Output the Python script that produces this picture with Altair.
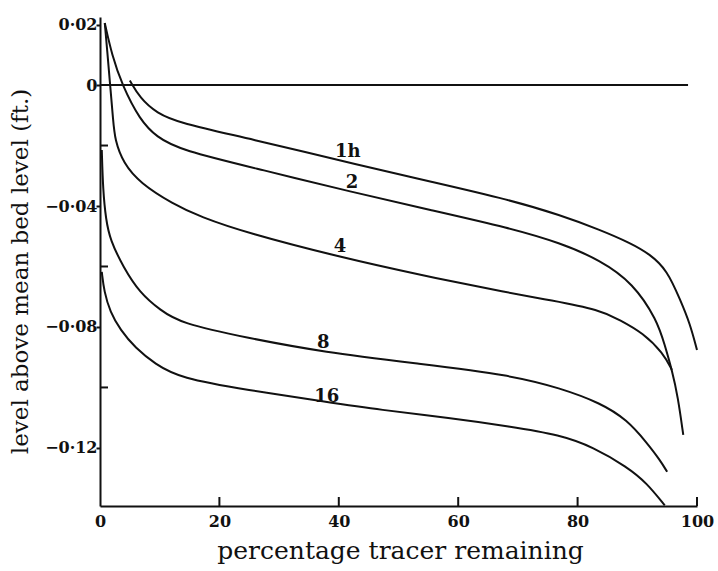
import altair as alt
import pandas as pd

# ---- data ----
x_1h = [5.0, 6.7, 9.5, 13.4, 24.6, 44.1, 55.3, 68.7, 77.1, 83.8, 88.8, 92.1, 95.0, 97.2, 98.8, 100.0]
y_1h = [0.0015, -0.0043, -0.0093, -0.0126, -0.0175, -0.0268, -0.0319, -0.0380, -0.0430, -0.0479, -0.0522, -0.0559, -0.0612, -0.0711, -0.0787, -0.0876]

x_2 = [0.8, 2.0, 3.7, 6.7, 9.5, 13.4, 27.3, 42.2, 55.3, 68.7, 77.1, 83.8, 89.3, 93.3, 94.6, 95.8, 96.8, 97.7]
y_2 = [0.0205, 0.0099, 0.0, -0.0116, -0.0172, -0.0215, -0.0281, -0.0354, -0.0413, -0.0473, -0.0522, -0.0579, -0.0655, -0.0777, -0.0860, -0.0942, -0.1031, -0.1157]

x_4 = [0.8, 1.2, 1.7, 2.2, 2.5, 3.9, 6.7, 12.2, 16.8, 24.6, 40.2, 53.6, 68.7, 75.4, 83.8, 87.1, 91.0, 94.3, 95.8]
y_4 = [0.0205, 0.0116, 0.0, -0.0116, -0.0182, -0.0258, -0.0324, -0.0393, -0.0436, -0.0489, -0.0569, -0.0628, -0.0688, -0.0711, -0.0744, -0.0777, -0.0820, -0.0886, -0.0942]

x_8 = [0.3, 0.5, 1.0, 1.7, 3.9, 6.7, 10.1, 13.4, 24.6, 37.4, 53.6, 68.7, 77.1, 83.8, 88.3, 91.6, 93.8, 95.0]
y_8 = [-0.0215, -0.0347, -0.0446, -0.0512, -0.0602, -0.0688, -0.0744, -0.0787, -0.0836, -0.0883, -0.0922, -0.0959, -0.1002, -0.1051, -0.1107, -0.1183, -0.1240, -0.1279]

x_16 = [0.3, 0.7, 1.7, 3.4, 5.9, 9.2, 13.4, 24.6, 38.0, 46.9, 58.6, 68.7, 77.1, 82.6, 88.3, 91.6, 94.6]
y_16 = [-0.0618, -0.0684, -0.0750, -0.0810, -0.0869, -0.0922, -0.0969, -0.1008, -0.1048, -0.1074, -0.1101, -0.1129, -0.1157, -0.1197, -0.1263, -0.1316, -0.1390]

series_names = ["1h", "2", "4", "8", "16"]

label_text = ["1h", "2", "4", "8", "16"]
label_x = [41.5, 42.2, 40.2, 37.4, 38.0]
label_y = [-0.0221, -0.0324, -0.0536, -0.0853, -0.1031]

zero_x = [0, 98.5]
zero_y = [0, 0]

x_label_values = [0, 20, 40, 60, 80, 100]
x_inner_ticks = [20, 40, 60, 80, 100]
y_major = [0.02, 0, -0.04, -0.08, -0.12]
y_minor = [-0.02, -0.06, -0.10]

x_domain = [0, 100]
y_domain = [-0.1392, 0.0225]

# ---- build tables ----
rows = []
for name, xs_, ys_ in zip(series_names, [x_1h, x_2, x_4, x_8, x_16], [y_1h, y_2, y_4, y_8, y_16]):
    for i, (a, b) in enumerate(zip(xs_, ys_)):
        rows.append({"series": name, "x": a, "y": b, "i": i})
df = pd.DataFrame(rows)
labels_df = pd.DataFrame({"t": label_text, "x": label_x, "y": label_y})
zero_df = pd.DataFrame({"x": zero_x, "y": zero_y})
xt_df = pd.DataFrame({"x": x_inner_ticks})
yt_df = pd.DataFrame({"y": y_minor})

INK = "#111111"
FONT = "DejaVu Serif"
W, H = 597, 489

xs = alt.Scale(domain=x_domain, nice=False, zero=False)
ys = alt.Scale(domain=y_domain, nice=False, zero=False)

x_axis = alt.Axis(
    values=x_label_values, ticks=False, grid=False, domainColor=INK, domainWidth=2,
    labelFont=FONT, labelFontSize=16, labelFontWeight="bold", labelColor=INK, labelPadding=7, labelFlush=False,
    title="percentage tracer remaining", titleFont=FONT, titleFontSize=25, titleFontWeight="normal",
    titleColor=INK, titleX=300, titleY=44, titleAlign="center", titleBaseline="middle", titleAnchor="start",
)
y_axis = alt.Axis(
    values=y_major, tickSize=4, tickWidth=2, tickColor=INK, grid=False, domainColor=INK, domainWidth=2,
    labelFont=FONT, labelFontSize=16, labelFontWeight="bold", labelColor=INK, labelPadding=-1, labelFlush=False,
    labelExpr="datum.value == 0 ? '0' : replace(format(datum.value, '.2f'), '.', '\u00b7')",
    title="level above mean bed level (ft.)", titleFont=FONT, titleFontSize=23, titleFontWeight="normal",
    titleColor=INK, titleAngle=-90, titleX=-80, titleY=254, titleAlign="center", titleBaseline="middle",
    titleAnchor="start",
)

curves = alt.Chart(df).mark_line(color=INK, strokeWidth=2, interpolate="basis").encode(
    x=alt.X("x:Q", scale=xs, axis=x_axis),
    y=alt.Y("y:Q", scale=ys, axis=y_axis),
    detail="series:N",
    order="i:Q",
)

zero_line = alt.Chart(zero_df).mark_line(color=INK, strokeWidth=2).encode(
    x=alt.X("x:Q", scale=xs),
    y=alt.Y("y:Q", scale=ys),
)

x_ticks = alt.Chart(xt_df).mark_rule(color=INK, strokeWidth=2).encode(
    x=alt.X("x:Q", scale=xs),
    y=alt.value(H),
    y2=alt.value(H - 9),
)

y_ticks = alt.Chart(yt_df).mark_rule(color=INK, strokeWidth=2).encode(
    y=alt.Y("y:Q", scale=ys),
    x=alt.value(0),
    x2=alt.value(8),
)

labels = alt.Chart(labels_df).mark_text(
    font=FONT, fontSize=18, fontWeight="bold", color=INK, baseline="middle", align="center"
).encode(
    x=alt.X("x:Q", scale=xs),
    y=alt.Y("y:Q", scale=ys),
    text="t:N",
)

chart = alt.layer(curves, zero_line, x_ticks, y_ticks, labels).properties(
    width=W, height=H,
    autosize=alt.AutoSizeParams(type="none"),
    padding={"left": 100, "top": 17, "right": 21, "bottom": 65},
    background="white",
).configure_view(stroke=None)

chart.save("out.html", embed_options={"renderer": "svg", "actions": False})
